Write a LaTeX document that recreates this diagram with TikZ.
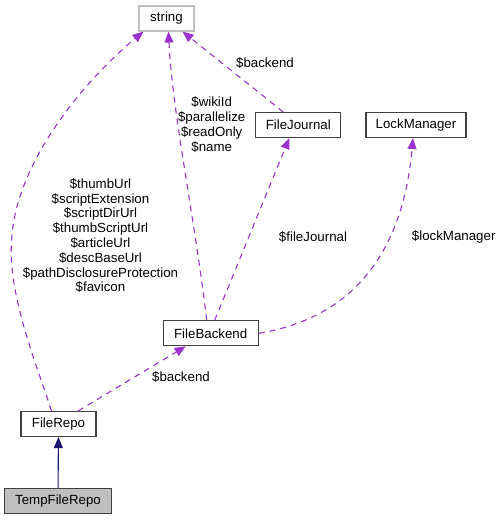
\documentclass[tikz,border=0pt]{standalone}
\usepackage{fontspec}
\setmainfont{Liberation Sans}
\usetikzlibrary{arrows.meta}
\definecolor{depcol}{HTML}{9A32CD}
\definecolor{inhcol}{HTML}{191970}
\definecolor{boxcol}{HTML}{404040}
\definecolor{graycol}{HTML}{BFBFBF}
\begin{document}
\begin{tikzpicture}[x=1pt,y=-1pt,
  font=\fontsize{13.3}{14.8}\selectfont,
  box/.style={draw=boxcol, line width=1.1pt, minimum height=25pt, inner sep=0pt, anchor=center, fill=white},
  depedge/.style={draw=depcol, line width=1.1pt, dash pattern=on 6pt off 5pt,
     -{Triangle[length=11pt,width=9pt,fill=depcol]}},
  inhedge/.style={draw=inhcol, line width=1.1pt, -{Triangle[length=11pt,width=9pt,fill=inhcol]}},
  lbl/.style={align=center, inner sep=0pt}]
\useasboundingbox (0,0) rectangle (500,520);

\node[box, draw=graycol, minimum width=55pt] (str) at (166.5,18.5) {string};
\node[box, minimum width=85pt] (fj) at (298.3,125) {FileJournal};
\node[box, minimum width=100pt] (lm) at (416,125) {LockManager};
\node[box, minimum width=95pt] (fb) at (210.7,333.3) {FileBackend};
\node[box, minimum width=75pt] (fr) at (58.5,424) {FileRepo};
\node[box, fill=graycol, minimum width=107pt] (tfr) at (58,501) {TempFileRepo};

% inheritance
\draw[inhedge] (tfr) -- (fr);

% FileRepo -> string
\draw[depedge] ([xshift=-7pt]fr.north) .. controls (35,360) and (6,290) .. (12,235)
  .. controls (18,160) and (85,80) .. ([xshift=-23pt]str.south);
\node[lbl] (l1) at (100.5,235.7) {\$thumbUrl\\\$scriptExtension\\\$scriptDirUrl\\\$thumbScriptUrl\\\$articleUrl\\\$descBaseUrl\\\$pathDisclosureProtection\\\$favicon};

% FileBackend -> string
\draw[depedge] ([xshift=-4pt]fb.north) .. controls (195,220) and (172,110) .. ([xshift=2pt]str.south);
\node[lbl] (l2) at (211.7,124.5) {\$wikiId\\\$parallelize\\\$readOnly\\\$name};

% FileJournal -> string
\draw[depedge] ([xshift=-15pt]fj.north) -- ([xshift=16pt]str.south);
\node[lbl] (l3) at (265,62.7) {\$backend};

% FileBackend -> FileJournal
\draw[depedge] ([xshift=4pt]fb.north) -- ([xshift=-9pt]fj.south);
\node[lbl] (l4) at (313,236.7) {\$fileJournal};

% FileBackend -> LockManager
\draw[depedge] (fb.east) .. controls (370,315) and (405,230) .. ([xshift=-3pt]lm.south);
\node[lbl] (l5) at (453.7,236.7) {\$lockManager};

% FileRepo -> FileBackend
\draw[depedge] ([xshift=19.5pt]fr.north) -- ([xshift=-25pt]fb.south);
\node[lbl] (l6) at (181,377.3) {\$backend};
\end{tikzpicture}
\end{document}
